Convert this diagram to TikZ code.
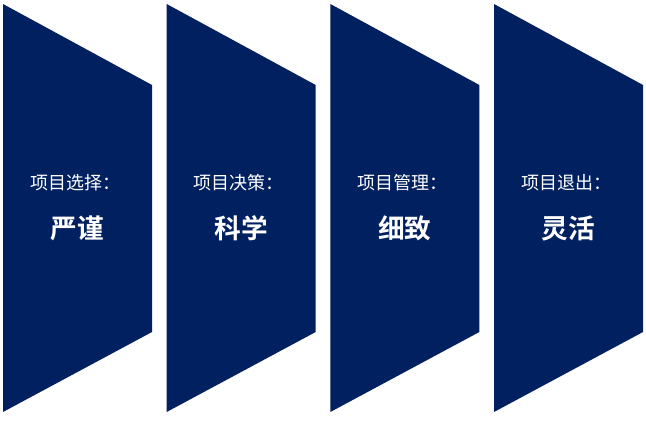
\documentclass[tikz,border=0pt]{standalone}
\usepackage{fontspec}
\newfontfamily\cjk{Noto Sans CJK SC}
\newfontfamily\cjkb{Noto Sans CJK SC Bold}
\definecolor{navy}{HTML}{002060}
\begin{document}
\begin{tikzpicture}[x=0.75pt,y=-0.75pt,
  panel/.style={fill=navy,draw=none},
  small/.style={text=white,font=\cjk\fontsize{13.5}{15}\selectfont,inner sep=0pt,anchor=west},
  big/.style={text=white,font=\cjkb\fontsize{20}{22}\selectfont,inner sep=0pt}]
\useasboundingbox (0,0) rectangle (646,423);
\foreach \i/\a/\b in {0/项目选择：/严谨,1/项目决策：/科学,2/项目管理：/细致,3/项目退出：/灵活}{
  \pgfmathsetmacro{\xl}{3+163.67*\i}
  \fill[panel] (\xl,4) -- (\xl+149,85) -- (\xl+149,332) -- (\xl,412) -- cycle;
  \node[small] (s\i) at (\xl+27,182.5) {\a};
  \node[big] (b\i) at (\xl+74.5,228.5) {\b};
}
\end{tikzpicture}
\end{document}
